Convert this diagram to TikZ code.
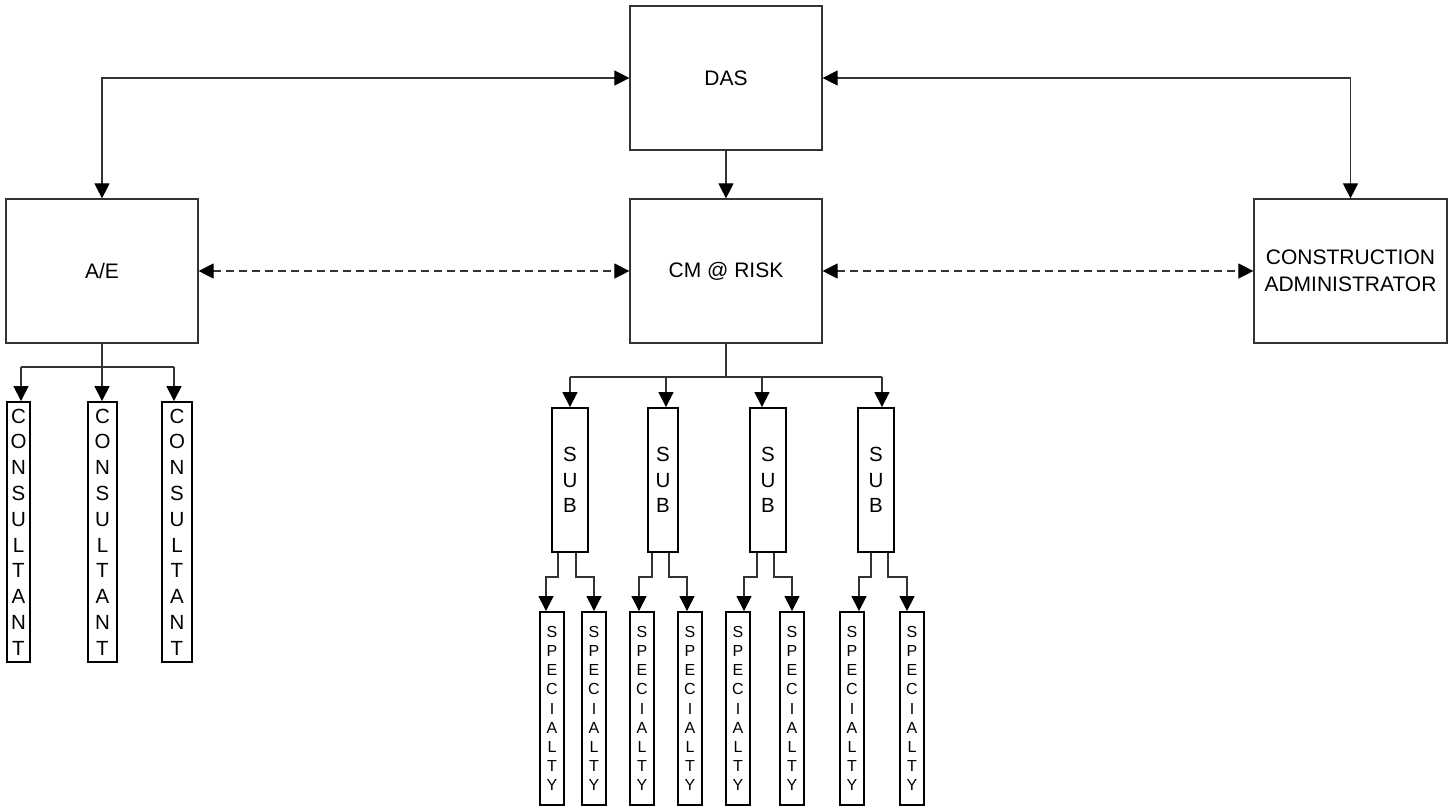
\documentclass[tikz,border=0pt]{standalone}
\usepackage{fontspec}
\setmainfont{Liberation Sans}
\usetikzlibrary{arrows.meta}
\begin{document}
\begin{tikzpicture}[x=1pt,y=-1pt,
  bigbox/.style={draw=black!80, line width=1.2pt, rectangle, inner sep=0pt, minimum width=192pt, minimum height=144pt, align=center, font=\fontsize{21}{26.5}\selectfont},
  tallbox/.style={draw=black, line width=1.8pt, rectangle, inner sep=0pt, align=center, font=\fontsize{20.5}{25.8}\selectfont},
  specbox/.style={draw=black, line width=1.8pt, rectangle, inner sep=0pt, minimum width=24pt, minimum height=193pt, align=center, font=\fontsize{16}{19.2}\selectfont},
  conn/.style={draw=black!80, line width=1.1pt},
  tip/.style={fill=black, draw=black},
  arr/.style={conn, -{Triangle[length=15pt,width=15pt,black]}},
  biarr/.style={conn, {Triangle[length=15pt,width=15pt,black]}-{Triangle[length=15pt,width=15pt,black]}},
  dasharr/.style={biarr, dash pattern=on 8pt off 5pt}
]
\useasboundingbox (0,0) rectangle (1452,807);

% main boxes
\node[bigbox] (das) at (726,78) {DAS};
\node[bigbox] (cm) at (726,271) {CM @ RISK};
\node[bigbox] (ae) at (102,271) {A/E};
\node[bigbox, minimum width=193pt] (ca) at (1350.5,271) {CONSTRUCTION\\ADMINISTRATOR};

% consultants
\node[tallbox, minimum width=23pt, minimum height=260pt] (c1) at (18.5,532) {C\\O\\N\\S\\U\\L\\T\\A\\N\\T};
\node[tallbox, minimum width=29pt, minimum height=260pt] (c2) at (102.5,532) {C\\O\\N\\S\\U\\L\\T\\A\\N\\T};
\node[tallbox, minimum width=30pt, minimum height=260pt] (c3) at (177,532) {C\\O\\N\\S\\U\\L\\T\\A\\N\\T};

% subs
\node[tallbox, minimum width=36pt, minimum height=144pt] (s1) at (570,480) {S\\U\\B};
\node[tallbox, minimum width=30pt, minimum height=144pt] (s2) at (663,480) {S\\U\\B};
\node[tallbox, minimum width=36pt, minimum height=144pt] (s3) at (768,480) {S\\U\\B};
\node[tallbox, minimum width=36pt, minimum height=144pt] (s4) at (876,480) {S\\U\\B};

% specialties
\foreach \i/\x in {1/552,2/594,3/642,4/690,5/738,6/792,7/852,8/912}{
  \node[specbox] (p\i) at (\x,708.5) {S\\P\\E\\C\\I\\A\\L\\T\\Y};
}

% top connectors
\draw[biarr] (ae.north) |- (das.west);
\draw[biarr] (ca.north) |- (das.east);
\draw[arr] (das.south) -- (cm.north);

% dashed
\draw[dasharr] (ae.east) -- (cm.west);
\draw[dasharr] (cm.east) -- (ca.west);

% consultants tree
\coordinate (ca1) at (21,367);
\coordinate (ca2) at (102,367);
\coordinate (ca3) at (174,367);
\draw[conn] (ae.south) -- (ae.south |- ca2);
\draw[conn] (ca1) -- (ca3);
\draw[arr] (ca1) -- (ca1 |- c1.north);
\draw[arr] (ca2) -- (ca2 |- c2.north);
\draw[arr] (ca3) -- (ca3 |- c3.north);

% subs tree
\coordinate (sa1) at (570,377);
\coordinate (sa2) at (666,377);
\coordinate (sa3) at (762,377);
\coordinate (sa4) at (882,377);
\draw[conn] (cm.south) -- (cm.south |- sa1);
\draw[conn] (sa1) -- (sa4);
\foreach \i in {1,2,3,4}{
  \draw[arr] (sa\i) -- (sa\i |- s\i.north);
}

% specialty branches
\foreach \s/\i/\b/\q in {1/1/558/546, 1/2/576/594, 2/3/652/639, 2/4/669/687, 3/5/757/744, 3/6/774/792, 4/7/871/859, 4/8/888/907}{
  \coordinate (b\i) at (\b,577);
  \coordinate (q\i) at (\q,577);
  \draw[arr] (b\i |- s\s.south) -- (b\i) -- (q\i) -- (q\i |- p\i.north);
}
\end{tikzpicture}
\end{document}
